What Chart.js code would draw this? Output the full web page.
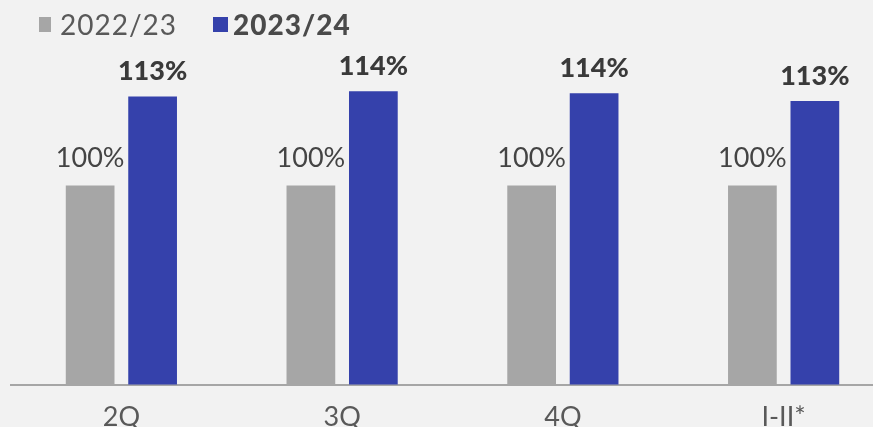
<!DOCTYPE html>
<html>
<head>
<meta charset="utf-8">
<script src="https://cdn.jsdelivr.net/npm/chart.js@4"></script>
<style>
  html, body { margin: 0; padding: 0; background: #f2f2f2; overflow: hidden; }
  #wrap { position: relative; width: 894px; height: 449px; }
</style>
</head>
<body>
<div id="wrap"><canvas id="canvasTrimestres"></canvas></div>
<script>
var categorias = ['2Q', '3Q', '4Q', 'I-II*'];
var temporadas = ['2022/23', '2023/24'];
var valoresAnterior = [100, 100, 100, 100];
var valoresActual = [113.4, 114.2, 113.9, 112.7];

var colorGris = '#a6a6a6';
var colorAzul = '#3541ab';
var fuente = 'Lato, "Open Sans", sans-serif';

// etiquetas de porcentaje encima de cada barra
var etiquetasBarras = {
    id: 'etiquetasBarras',
    afterDatasetsDraw: function (chart) {
        var ctx = chart.ctx;
        ctx.save();
        ctx.textAlign = 'center';
        ctx.textBaseline = 'alphabetic';
        chart.data.datasets.forEach(function (ds, i) {
            var meta = chart.getDatasetMeta(i);
            var negrita = i === 1;
            ctx.font = (negrita ? '900 ' : '') + '27px ' + fuente;
            ctx.fillStyle = negrita ? '#3a3a3a' : '#444444';
            meta.data.forEach(function (bar, j) {
                ctx.fillText(Math.round(ds.data[j]) + '%', bar.x, bar.y - (negrita ? 16 : 18));
            });
        });
        ctx.restore();
    }
};

// leyenda propia: la segunda temporada va en negrita
var leyenda = {
    id: 'leyenda',
    afterDraw: function (chart) {
        var ctx = chart.ctx;
        var posiciones = [39, 213];
        ctx.save();
        ctx.textBaseline = 'alphabetic';
        ctx.textAlign = 'left';
        ctx.letterSpacing = '1px';
        chart.data.datasets.forEach(function (ds, i) {
            var x = posiciones[i];
            ctx.fillStyle = ds.backgroundColor;
            ctx.fillRect(x, 17, i === 0 ? 12 : 15, 15);
            ctx.font = (i === 1 ? '900 ' : '') + '28px ' + fuente;
            ctx.fillStyle = i === 1 ? '#4a4a4a' : '#595959';
            ctx.fillText(ds.label, x + (i === 0 ? 21 : 20), 35);
        });
        ctx.restore();
    }
};

var ctx = document.getElementById('canvasTrimestres').getContext('2d');
var chartTrimestres = new Chart(ctx, {
    type: 'bar',
    data: {
        labels: categorias,
        datasets: [{
            label: temporadas[0],
            data: valoresAnterior,
            backgroundColor: colorGris
        }, {
            label: temporadas[1],
            data: valoresActual,
            backgroundColor: colorAzul
        }]
    },
    options: {
        responsive: true,
        maintainAspectRatio: false,
        animation: false,
        categoryPercentage: 0.566,
        barPercentage: 0.78,
        layout: { padding: { left: 11, top: 46, right: 0, bottom: 0 } },
        plugins: {
            legend: { display: false },
            tooltip: { enabled: false }
        },
        scales: {
            x: {
                grid: { display: false, drawTicks: false },
                border: { display: true, color: '#a6a6a6', width: 2 },
                ticks: {
                    color: '#595959',
                    padding: 16,
                    font: { family: fuente, size: 27 }
                }
            },
            y: {
                display: false,
                min: 70,
                max: 121
            }
        }
    },
    plugins: [etiquetasBarras, leyenda]
});
</script>
</body>
</html>
